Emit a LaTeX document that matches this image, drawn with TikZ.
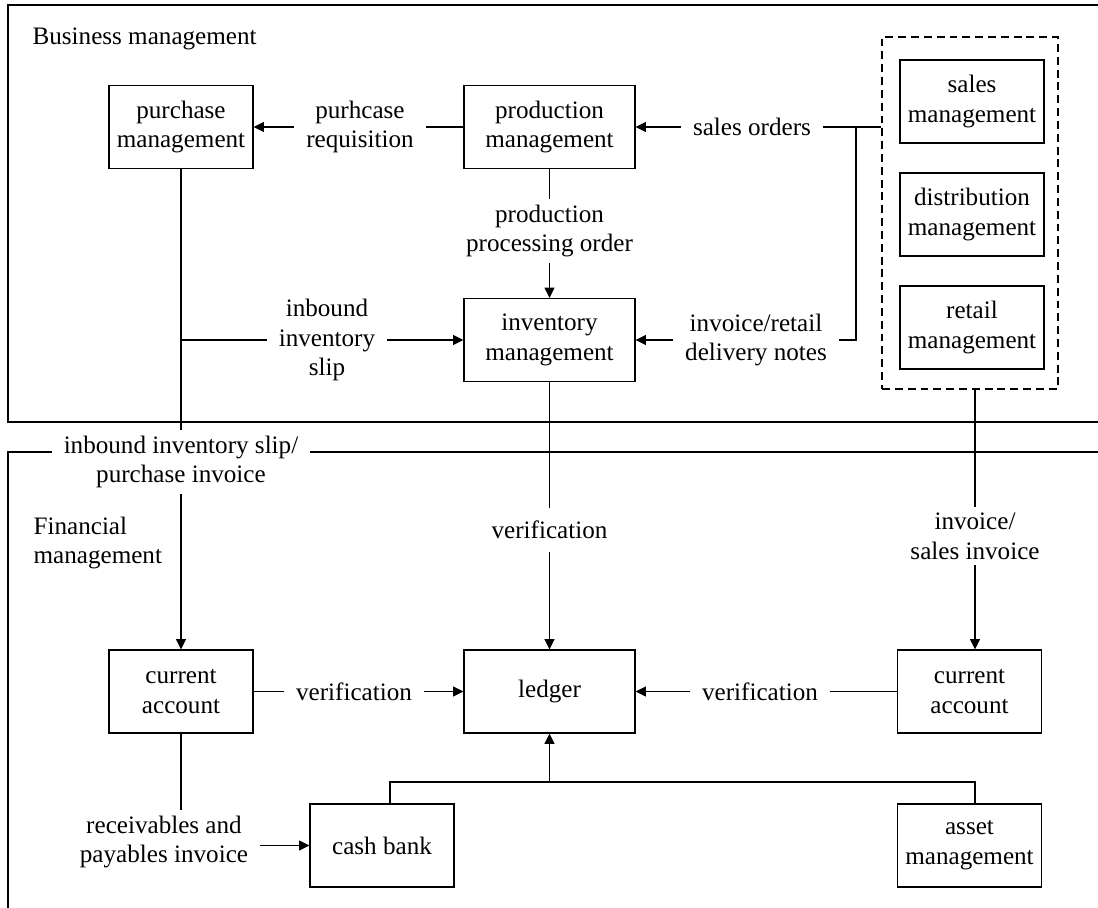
\documentclass[tikz,border=0pt]{standalone}
\usepackage{fontspec}
\setmainfont{Liberation Serif}
\usetikzlibrary{arrows.meta}

\begin{document}
\begin{tikzpicture}[x=0.02cm, y=-0.02cm, font=\fontsize{14.3}{17}\selectfont, line width=0.7pt]
    \tikzstyle{block} = [draw, rectangle, align=center, minimum width=2.88cm, minimum height=1.66cm, inner sep=2pt]
    \tikzstyle{wideblock} = [block, minimum width=3.42cm]
    \tikzstyle{flow} = [align=center, inner xsep=6.5pt, inner ysep=3pt]
    \tikzstyle{line} = [draw, -{Triangle[length=5.8pt, width=5.6pt]}]

    \useasboundingbox (0,0) rectangle (1098,908);
    % the two areas
    \draw (1098,5) -- (8,5) -- (8,422) -- (1098,422);
    \draw (1098,452) -- (8,452) -- (8,908);
    \node [anchor=west, inner sep=0] (bizhead) at (32,39) {Business management};
    \node [anchor=west, align=left, inner sep=0] (finhead) at (33,543) {Financial\\management};

    \node [block] (purchase) at (181,127) {purchase\\management};
    \node [wideblock] (production) at (549.5,127) {production\\management};
    \node [wideblock] (inventory) at (549.5,340) {inventory\\management};
    \node [block] (sales) at (972,101.5) {sales\\management};
    \node [block] (distribution) at (972,214.5) {distribution\\management};
    \node [block] (retail) at (972,327.5) {retail\\management};
    \node [draw, dash pattern=on 4.5pt off 2.8pt, minimum width=3.52cm, minimum height=7.04cm] (salesgrp) at (970,213) {};

    \node [block] (curL) at (181,691.5) {current\\account};
    \node [wideblock] (ledger) at (549.5,691.5) {ledger};
    \node [block] (curR) at (969.5,691.5) {current\\account};
    \node [block] (cash) at (382,845.5) {cash bank};
    \node [block] (asset) at (969.5,845.5) {asset\\management};

    % labels on the flows
    \node [flow] (reqlbl) at (360,127) {purhcase\\requisition};
    \node [flow] (ordlbl) at (752,127) {sales orders};
    \node [flow] (proclbl) at (549.5,231) {production\\processing order};
    \node [flow] (inlbl) at (327,340) {inbound\\inventory\\slip};
    \node [flow] (dellbl) at (756,340) {invoice/retail\\delivery notes};
    \node [flow, fill=white] (pinvlbl) at (181,462) {inbound inventory slip/\\purchase invoice};
    \node [flow, inner ysep=7pt] (verlbl) at (549.5,530) {verification};
    \node [flow] (sinvlbl) at (975,536) {invoice/\\sales invoice};
    \node [flow] (verL) at (354,691.5) {verification};
    \node [flow] (verR) at (760,691.5) {verification};
    \node [flow] (rplbl) at (164,842) {receivables and\\payables invoice};

    \coordinate (sj1) at (856,127);
    \coordinate (sj2) at (856,340);
    \coordinate (pj) at (181,340);
    \coordinate (bus) at (549.5,782);

    \draw (production) -- (reqlbl);
    \path [line] (reqlbl) -- (purchase);
    \draw (salesgrp.west |- sj1) -- (ordlbl);
    \path [line] (ordlbl) -- (production);
    \draw (sj1) -- (sj2) -- (dellbl);
    \path [line] (dellbl) -- (inventory);
    \draw (production) -- (proclbl);
    \path [line] (proclbl) -- (inventory);
    \draw (purchase) -- (pinvlbl);
    \draw (pj) -- (inlbl);
    \path [line] (inlbl) -- (inventory);
    \path [line] (pinvlbl) -- (curL);
    \draw (inventory) -- (verlbl);
    \path [line] (verlbl) -- (ledger);
    \draw (salesgrp.south -| sinvlbl) -- (sinvlbl);
    \path [line] (sinvlbl) -- (sinvlbl |- curR.north);
    \draw (curL) -- (verL);
    \path [line] (verL) -- (ledger);
    \draw (curR) -- (verR);
    \path [line] (verR) -- (ledger);
    \draw (curL.south) -- (curL.south |- rplbl.north);
    \path [line] (rplbl.east |- cash.west) -- (cash.west);
    \draw ([xshift=0.16cm]cash.north) |- (bus) -| ([xshift=0.11cm]asset.north);
    \path [line] (bus) -- (ledger);
\end{tikzpicture}
\end{document}
